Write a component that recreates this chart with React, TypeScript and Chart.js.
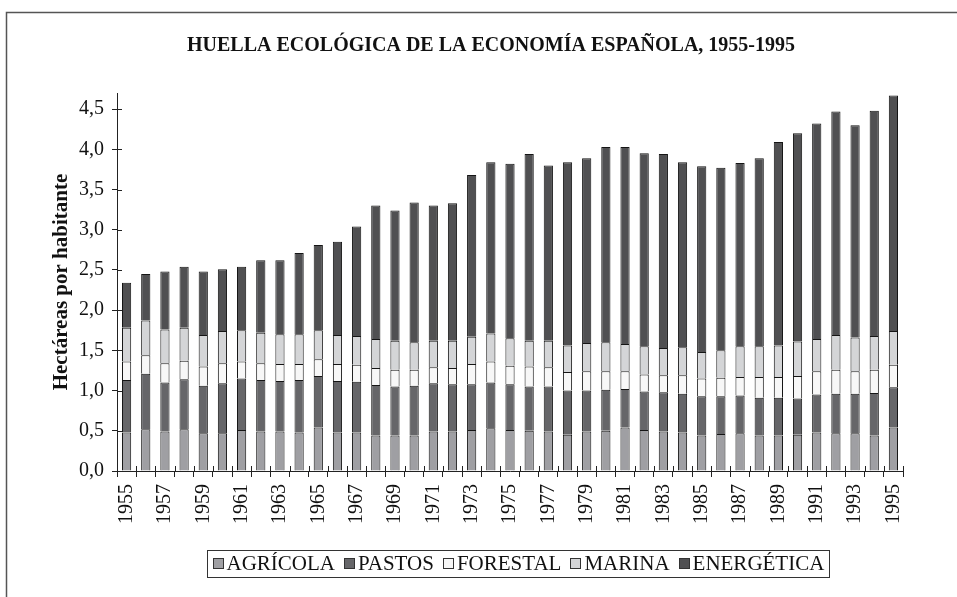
import React, { useEffect, useRef } from 'react';
import { Chart, registerables } from 'chart.js';

Chart.register(...registerables);

const TITLE = 'HUELLA ECOLÓGICA DE LA ECONOMÍA ESPAÑOLA, 1955-1995';
const Y_TITLE = 'Hectáreas por habitante';

const YEARS = [
  '1955', '1956', '1957', '1958', '1959', '1960', '1961', '1962', '1963', '1964',
  '1965', '1966', '1967', '1968', '1969', '1970', '1971', '1972', '1973', '1974',
  '1975', '1976', '1977', '1978', '1979', '1980', '1981', '1982', '1983', '1984',
  '1985', '1986', '1987', '1988', '1989', '1990', '1991', '1992', '1993', '1994', '1995',
];

const AGRICOLA = [
  0.48, 0.52, 0.49, 0.52, 0.47, 0.47, 0.51, 0.49, 0.49, 0.48,
  0.54, 0.48, 0.48, 0.44, 0.44, 0.44, 0.49, 0.49, 0.51, 0.53,
  0.51, 0.50, 0.49, 0.45, 0.49, 0.50, 0.54, 0.51, 0.49, 0.48,
  0.44, 0.46, 0.47, 0.44, 0.44, 0.45, 0.48, 0.47, 0.47, 0.44, 0.54,
];
const PASTOS = [
  0.65, 0.69, 0.61, 0.62, 0.59, 0.62, 0.64, 0.64, 0.63, 0.65,
  0.64, 0.64, 0.63, 0.63, 0.61, 0.62, 0.60, 0.59, 0.57, 0.57,
  0.57, 0.55, 0.56, 0.55, 0.51, 0.51, 0.48, 0.48, 0.49, 0.48,
  0.49, 0.47, 0.47, 0.47, 0.47, 0.45, 0.47, 0.49, 0.49, 0.53, 0.50,
];
const FORESTAL = [
  0.23, 0.23, 0.24, 0.23, 0.24, 0.25, 0.21, 0.21, 0.21, 0.20,
  0.21, 0.21, 0.21, 0.21, 0.21, 0.20, 0.20, 0.20, 0.25, 0.26,
  0.23, 0.25, 0.24, 0.23, 0.24, 0.23, 0.22, 0.21, 0.21, 0.23,
  0.22, 0.23, 0.23, 0.26, 0.26, 0.28, 0.29, 0.30, 0.28, 0.29, 0.28,
];
const MARINA = [
  0.42, 0.43, 0.42, 0.41, 0.39, 0.40, 0.39, 0.38, 0.37, 0.37,
  0.36, 0.36, 0.36, 0.36, 0.36, 0.34, 0.33, 0.34, 0.34, 0.35,
  0.34, 0.32, 0.33, 0.33, 0.35, 0.36, 0.34, 0.35, 0.34, 0.35,
  0.33, 0.34, 0.38, 0.38, 0.39, 0.43, 0.40, 0.43, 0.42, 0.42, 0.42,
];
const ENERGETICA = [
  0.56, 0.58, 0.72, 0.76, 0.79, 0.77, 0.79, 0.90, 0.92, 1.01,
  1.06, 1.16, 1.36, 1.66, 1.62, 1.74, 1.68, 1.71, 2.01, 2.13,
  2.17, 2.32, 2.18, 2.28, 2.30, 2.43, 2.45, 2.40, 2.41, 2.30,
  2.31, 2.27, 2.28, 2.34, 2.53, 2.59, 2.68, 2.78, 2.64, 2.80, 2.93,
];

const Y_MIN = 0;
const Y_MAX = 4.7;
const Y_TICKS = [0, 0.5, 1.0, 1.5, 2.0, 2.5, 3.0, 3.5, 4.0, 4.5];

const SERIES_NAMES = ['AGRÍCOLA', 'PASTOS', 'FORESTAL', 'MARINA', 'ENERGÉTICA'];
const SERIES_COLORS = ['#9f9fa3', '#666669', '#f7f7f7', '#d4d5d7', '#505052'];

const SERIF = "'Liberation Serif', 'Times New Roman', serif";
const AXIS = '#222222';
const TEXT = '#111111';

export default function App() {
  const ref = useRef<HTMLCanvasElement>(null);

  useEffect(() => {
    const canvas = ref.current;
    if (!canvas) return;

    const decor = {
      id: 'decor',
      beforeDraw(chart: any) {
        const ctx = chart.ctx;
        ctx.save();
        ctx.fillStyle = '#ffffff';
        ctx.fillRect(0, 0, chart.width, chart.height);
        ctx.strokeStyle = '#555555';
        ctx.lineWidth = 1.5;
        ctx.beginPath();
        ctx.moveTo(6.5, chart.height);
        ctx.lineTo(6.5, 12.5);
        ctx.lineTo(chart.width, 12.5);
        ctx.stroke();
        ctx.fillStyle = TEXT;
        ctx.font = `bold 20px ${SERIF}`;
        ctx.textAlign = 'center';
        ctx.textBaseline = 'middle';
        ctx.fillText(TITLE, 491, 46);
        ctx.restore();
      },
      afterDraw(chart: any) {
        const { ctx, chartArea, scales } = chart;
        const ys = scales.y;
        const xs = scales.x;
        ctx.save();
        ctx.strokeStyle = AXIS;
        ctx.lineWidth = 1;
        ctx.beginPath();
        ys.ticks.forEach((t: any) => {
          const py = Math.round(ys.getPixelForValue(t.value)) + 0.5;
          ctx.moveTo(chartArea.left, py);
          ctx.lineTo(chartArea.left + 5, py);
        });
        const n = xs.ticks.length;
        for (let i = 0; i <= n; i++) {
          const px = Math.round(xs.left + (i * xs.width) / n) + 0.5;
          ctx.moveTo(px, chartArea.bottom);
          ctx.lineTo(px, chartArea.bottom - 5);
        }
        ctx.stroke();

        // legend
        ctx.font = `21px ${SERIF}`;
        const items = chart.data.datasets.map((d: any) => ({ label: d.label, color: d.backgroundColor }));
        const sw = 11;
        const gapBT = 3;
        const gapItems = 9;
        const padX = 5;
        const widths = items.map((it: any) => sw + gapBT + ctx.measureText(it.label).width);
        const total = widths.reduce((a: number, b: number) => a + b, 0) + gapItems * (items.length - 1) + padX * 2;
        const cx = 518;
        const top = 550;
        const h = 27;
        const lx = Math.round(cx - total / 2) + 0.5;
        ctx.strokeStyle = '#333333';
        ctx.lineWidth = 1;
        ctx.strokeRect(lx, top + 0.5, Math.round(total), h);
        let xx = lx + padX;
        const my = top + h / 2;
        items.forEach((it: any, i: number) => {
          ctx.fillStyle = it.color;
          ctx.fillRect(Math.round(xx), Math.round(my - sw / 2), sw, sw);
          ctx.strokeStyle = '#333333';
          ctx.strokeRect(Math.round(xx) + 0.5, Math.round(my - sw / 2) + 0.5, sw - 1, sw - 1);
          ctx.fillStyle = TEXT;
          ctx.textAlign = 'left';
          ctx.textBaseline = 'middle';
          ctx.fillText(it.label, xx + sw + gapBT, my + 1);
          xx += widths[i] + gapItems;
        });
        ctx.restore();
      },
    };

    const seriesData = [AGRICOLA, PASTOS, FORESTAL, MARINA, ENERGETICA];

    const chart = new Chart(canvas, {
      type: 'bar',
      data: {
        labels: YEARS,
        datasets: seriesData.map((d, i) => ({
          label: SERIES_NAMES[i],
          data: d,
          backgroundColor: SERIES_COLORS[i],
          borderColor: '#151515',
          borderWidth: { top: 1, left: 1, right: 1, bottom: 0 },
          borderSkipped: false,
          categoryPercentage: 1,
          barPercentage: 0.48,
        })),
      },
      options: {
        responsive: false,
        animation: false,
        devicePixelRatio: 1,
        layout: { padding: { left: 0, right: 54, top: 93, bottom: 66 } },
        plugins: {
          legend: { display: false },
          title: { display: false },
          tooltip: { enabled: false },
        },
        scales: {
          x: {
            stacked: true,
            offset: true,
            grid: {
              display: true,
              offset: true,
              drawOnChartArea: false,
              drawTicks: true,
              tickLength: 6,
              color: AXIS,
              lineWidth: 1,
            },
            border: { display: true, color: AXIS, width: 1 },
            ticks: {
              autoSkip: false,
              maxRotation: 90,
              minRotation: 90,
              padding: 7,
              color: TEXT,
              font: { family: SERIF, size: 20 },
              callback: (_v: any, i: number) => (i % 2 === 0 ? YEARS[i] : ''),
            },
            afterFit: (s: any) => {
              s.height = 60;
            },
          },
          y: {
            stacked: true,
            min: Y_MIN,
            max: Y_MAX,
            ticks: {
              padding: 8,
              color: TEXT,
              font: { family: SERIF, size: 20 },
              callback: (v: any) => Number(v).toFixed(1).replace('.', ','),
            },
            grid: { drawOnChartArea: false, tickLength: 5, color: AXIS, lineWidth: 1 },
            border: { display: true, color: AXIS, width: 1 },
            title: {
              display: true,
              text: Y_TITLE,
              color: TEXT,
              font: { family: SERIF, size: 21, weight: 'bold' },
              padding: { top: 49, bottom: 0 },
            },
            afterBuildTicks: (s: any) => {
              s.ticks = Y_TICKS.map((v) => ({ value: v }));
            },
            afterFit: (s: any) => {
              s.width = 117;
            },
          },
        },
      },
      plugins: [decor],
    } as any);

    return () => chart.destroy();
  }, []);

  return (
    <div style={{ position: 'absolute', left: 0, top: 0, width: 957, height: 597, background: '#fff' }}>
      <canvas ref={ref} width={957} height={597} style={{ display: 'block' }} />
    </div>
  );
}
